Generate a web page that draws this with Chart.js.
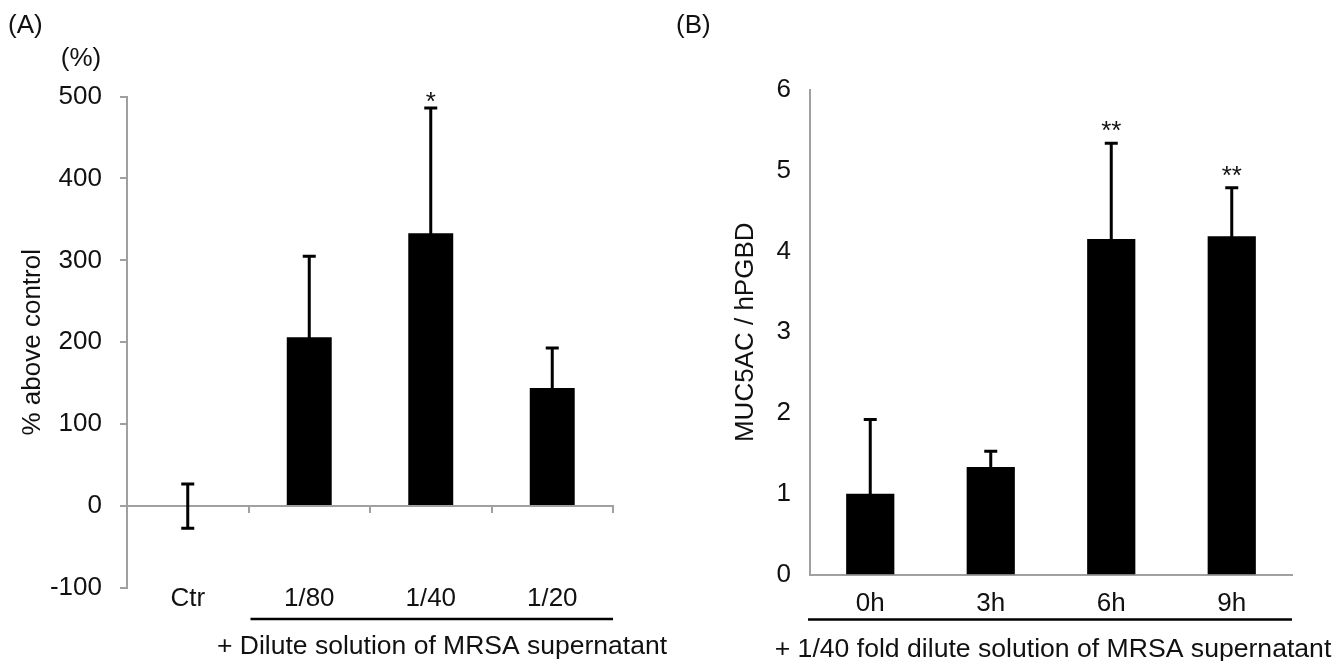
<!DOCTYPE html>
<html><head><meta charset="utf-8">
<script src="https://cdn.jsdelivr.net/npm/chart.js@4.4.1/dist/chart.umd.min.js"></script>
<style>
html,body{margin:0;padding:0;background:#fff;overflow:hidden}
#wrap{position:relative;width:1334px;height:661px;background:#fff}
canvas{position:absolute;top:0}
</style></head><body>
<div id="wrap">
<canvas id="cA" width="680" height="661" style="left:0;width:680px;height:661px"></canvas>
<canvas id="cB" width="667" height="661" style="left:667px;width:667px;height:661px"></canvas>
</div>
<script>
// ---- Data: panel A ----
const categoriesA = ['Ctr', '1/80', '1/40', '1/20'];
const meansA = [0, 206, 333, 144];
const errorsA = [27, 99, 153, 49];
const marksA = ['', '', '*', ''];
const ticksA = [-100, 0, 100, 200, 300, 400, 500];

// ---- Data: panel B ----
const categoriesB = ['0h', '3h', '6h', '9h'];
const meansB = [1.0, 1.33, 4.155, 4.19];
const errorsB = [0.92, 0.195, 1.185, 0.6];
const marksB = ['', '', '**', '**'];
const ticksB = [0, 1, 2, 3, 4, 5, 6];

const FONT = "'Liberation Sans', Arial, Helvetica, sans-serif";
const GRAY = '#a0a0a0';
const TXT = '#111';

function overlay(cfg) {
  return {
    id: 'overlay',
    afterDatasetsDraw(chart) {
      const ctx = chart.ctx;
      const meta = chart.getDatasetMeta(0);
      const ys = chart.scales.y;
      ctx.save();
      ctx.strokeStyle = '#000';
      ctx.lineWidth = 3;
      cfg.means.forEach((m, i) => {
        const x = meta.data[i].x;
        const yt = ys.getPixelForValue(m + cfg.errors[i]);
        const yb = ys.getPixelForValue(m - cfg.errors[i]);
        ctx.beginPath();
        ctx.moveTo(x, yt); ctx.lineTo(x, yb);
        ctx.moveTo(x - 6.5, yt); ctx.lineTo(x + 6.5, yt);
        ctx.moveTo(x - 6.5, yb); ctx.lineTo(x + 6.5, yb);
        ctx.stroke();
        if (cfg.marks[i]) {
          ctx.fillStyle = TXT;
          ctx.font = '26px ' + FONT;
          ctx.textAlign = 'center';
          ctx.textBaseline = 'alphabetic';
          ctx.fillText(cfg.marks[i], x, yt + cfg.markOffset);
        }
      });
      ctx.restore();
    },
    afterDraw(chart) {
      const ctx = chart.ctx;
      const xs = chart.scales.x;
      const area = chart.chartArea;
      ctx.save();
      ctx.fillStyle = TXT;
      ctx.textBaseline = 'alphabetic';
      ctx.font = '26px ' + FONT;
      ctx.textAlign = 'left';
      ctx.fillText(cfg.panel, cfg.panelX, 33);
      if (cfg.unit) {
        ctx.textAlign = 'center';
        ctx.fillText(cfg.unit, 81, 66);
      }
      // underline bracket
      let x0;
      if (cfg.lineFrom === 'second') {
        x0 = (xs.getPixelForValue(0) + xs.getPixelForValue(1)) / 2 + 2;
      } else {
        x0 = area.left - 2;
      }
      ctx.strokeStyle = '#000';
      ctx.lineWidth = 2.5;
      ctx.beginPath();
      ctx.moveTo(x0, cfg.lineY);
      ctx.lineTo(area.right, cfg.lineY);
      ctx.stroke();
      ctx.font = cfg.footSize + 'px ' + FONT;
      ctx.textAlign = 'center';
      ctx.fillText(cfg.foot, cfg.footX, cfg.footY);
      ctx.restore();
    }
  };
}

const tickFont = {family: FONT, size: 26, lineHeight: 1};

new Chart(document.getElementById('cA'), {
  type: 'bar',
  data: {
    labels: categoriesA,
    datasets: [{data: meansA, backgroundColor: '#000', borderWidth: 0,
      categoryPercentage: 1, barPercentage: 0.37}]
  },
  options: {
    responsive: false, animation: false, devicePixelRatio: 1,
    layout: {padding: {left: 0, right: 67, top: 96.5, bottom: 0}},
    plugins: {legend: {display: false}, tooltip: {enabled: false}},
    scales: {
      x: {
        afterFit: s => { s.height = 73; },
        border: {display: false},
        grid: {display: false, drawTicks: false},
        ticks: {color: TXT, font: tickFont, padding: -2, maxRotation: 0, autoSkip: false}
      },
      x2: {
        type: 'category', axis: 'x', labels: categoriesA, position: {y: 0}, offset: true,
        border: {display: true, color: GRAY, width: 2},
        grid: {display: true, offset: true, drawOnChartArea: false, drawTicks: true, tickLength: 6, color: GRAY, lineWidth: 2},
        ticks: {display: false}
      },
      y: {
        min: -100, max: 500,
        afterBuildTicks: s => { s.ticks = ticksA.map(v => ({value: v})); },
        afterFit: s => { s.width = 127; },
        border: {display: true, color: GRAY, width: 2},
        grid: {drawOnChartArea: false, drawTicks: true, tickLength: 7, color: GRAY, lineWidth: 2},
        ticks: {color: TXT, font: tickFont, padding: 18},
        title: {display: true, text: '% above control', color: TXT, font: tickFont, padding: {top: 20, bottom: 0}}
      }
    }
  },
  plugins: [overlay({means: meansA, errors: errorsA, marks: marksA, markOffset: 2,
    panel: '(A)', panelX: 8, unit: '(%)', lineFrom: 'second', lineY: 619,
    foot: '+ Dilute solution of MRSA supernatant', footX: 442, footY: 654, footSize: 26.5})]
});

new Chart(document.getElementById('cB'), {
  type: 'bar',
  data: {
    labels: categoriesB,
    datasets: [{data: meansB, backgroundColor: '#000', borderWidth: 0,
      categoryPercentage: 1, barPercentage: 0.4}]
  },
  options: {
    responsive: false, animation: false, devicePixelRatio: 1,
    layout: {padding: {left: 0, right: 42, top: 90, bottom: 0}},
    plugins: {legend: {display: false}, tooltip: {enabled: false}},
    scales: {
      x: {
        afterFit: s => { s.height = 86.5; },
        border: {display: true, color: GRAY, width: 2},
        grid: {display: false, drawTicks: false},
        ticks: {color: TXT, font: tickFont, padding: 16, maxRotation: 0, autoSkip: false}
      },
      y: {
        min: 0, max: 6,
        afterBuildTicks: s => { s.ticks = ticksB.map(v => ({value: v})); },
        afterFit: s => { s.width = 143; },
        border: {display: true, color: GRAY, width: 2},
        grid: {display: false, drawTicks: false},
        ticks: {color: TXT, font: tickFont, padding: 19},
        title: {display: true, text: 'MUC5AC / hPGBD', color: TXT, font: tickFont, padding: {top: 66, bottom: 0}}
      }
    }
  },
  plugins: [overlay({means: meansB, errors: errorsB, marks: marksB, markOffset: -4,
    panel: '(B)', panelX: 9, unit: null, lineFrom: 'axis', lineY: 619.5,
    foot: '+ 1/40 fold dilute solution of MRSA supernatant', footX: 386, footY: 657, footSize: 26.6})]
});
</script>
</body></html>
